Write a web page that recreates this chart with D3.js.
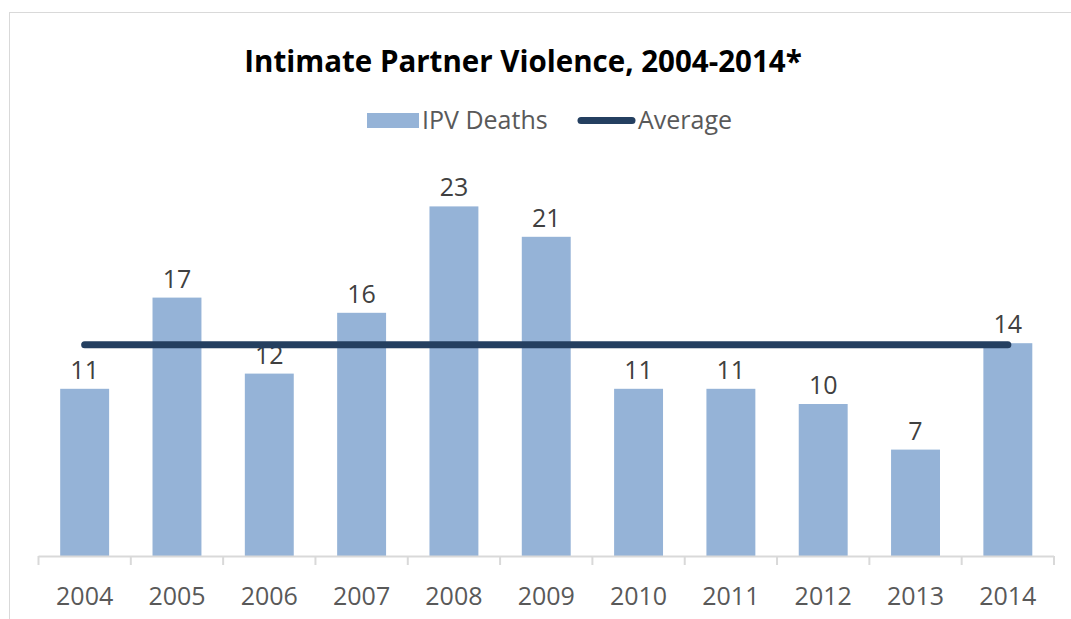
<!DOCTYPE html>
<html><head><meta charset="utf-8">
<script src="https://cdn.jsdelivr.net/npm/d3@7"></script>
<style>body{margin:0;background:#fff;}svg{display:block;font-family:"Open Sans",sans-serif;}</style>
</head><body>
<svg id="c" width="1071" height="619"></svg>
<script>
const years = ["2004","2005","2006","2007","2008","2009","2010","2011","2012","2013","2014"];
const deaths = [11,17,12,16,23,21,11,11,10,7,14];
const average = [13.9,13.9,13.9,13.9,13.9,13.9,13.9,13.9,13.9,13.9,13.9];
const title = "Intimate Partner Violence, 2004-2014*";
const seriesNames = ["IPV Deaths","Average"];

const svg = d3.select("#c");
svg.append("rect").attr("x",9.5).attr("y",12.5).attr("width",1080).attr("height",640)
  .attr("fill","#fff").attr("stroke","#d9d9d9").attr("stroke-width",1);

const x = d3.scaleBand().domain(years).range([38.5,1054]).paddingInner(0.47).paddingOuter(0.235);
const xt = d3.scaleBand().domain(years).range([38.5,1054]);
const y = d3.scaleLinear().domain([0,25]).range([556,176]);

svg.append("g").selectAll("rect").data(deaths).join("rect")
  .attr("x",(d,i)=>x(years[i])).attr("width",x.bandwidth())
  .attr("y",d=>y(d)).attr("height",d=>y(0)-y(d)).attr("fill","#95b3d7");

svg.append("g").selectAll("text").data(deaths).join("text")
  .attr("x",(d,i)=>x(years[i])+x.bandwidth()/2).attr("y",d=>y(d)-10)
  .attr("text-anchor","middle").attr("font-size",25).attr("fill","#404040").text(d=>d);

// axis
const ax = svg.append("g").attr("transform","translate(0,556)");
ax.append("line").attr("x1",38.5).attr("x2",1054).attr("y1",0.5).attr("y2",0.5).attr("stroke","#d9d9d9").attr("stroke-width",2);
const tickPos = years.map(d=>xt(d)).concat([1054]);
ax.selectAll("line.t").data(tickPos).join("line").attr("class","t")
  .attr("x1",d=>d).attr("x2",d=>d).attr("y1",0).attr("y2",9).attr("stroke","#d9d9d9").attr("stroke-width",2);
ax.selectAll("text").data(years).join("text")
  .attr("x",d=>xt(d)+xt.bandwidth()/2).attr("y",49).attr("text-anchor","middle")
  .attr("font-size",25).attr("fill","#595959").text(d=>d);

// average line
const line = d3.line().x((d,i)=>x(years[i])+x.bandwidth()/2).y(d=>y(d));
svg.append("path").datum(average).attr("d",line).attr("fill","none")
  .attr("stroke","#243f60").attr("stroke-width",7).attr("stroke-linecap","round");

// title
svg.append("text").attr("x",523).attr("y",72).attr("text-anchor","middle")
  .attr("font-size",29.5).attr("font-weight","bold").attr("fill","#000").text(title);

// legend
const lg = svg.append("g");
lg.append("rect").attr("x",367).attr("y",113).attr("width",52).attr("height",15).attr("fill","#95b3d7");
lg.append("text").attr("x",422).attr("y",129).attr("font-size",25).attr("fill","#595959").text(seriesNames[0]);
lg.append("line").attr("x1",581).attr("x2",632).attr("y1",120.5).attr("y2",120.5).attr("stroke","#243f60").attr("stroke-width",7).attr("stroke-linecap","round");
lg.append("text").attr("x",638).attr("y",129).attr("font-size",25).attr("fill","#595959").text(seriesNames[1]);
</script>
</body></html>
